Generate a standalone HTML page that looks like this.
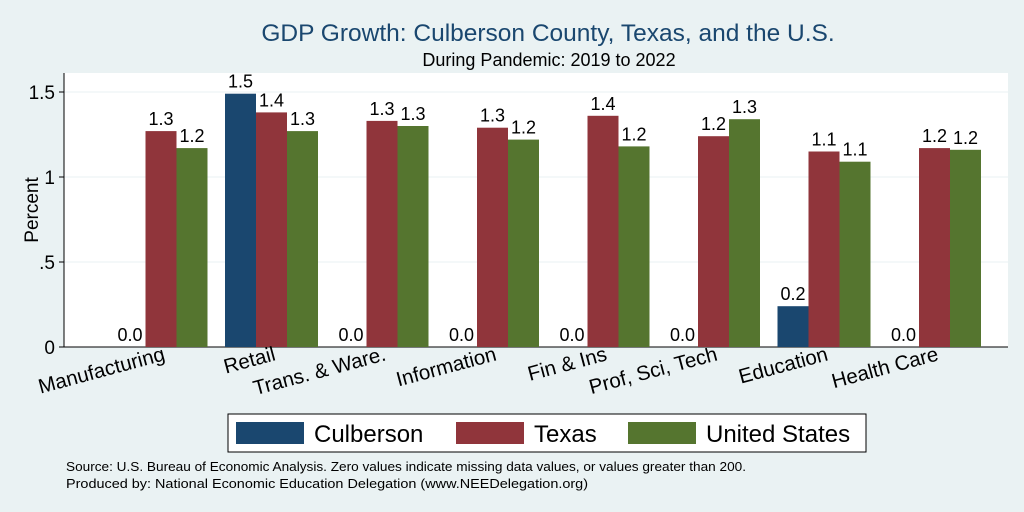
<!DOCTYPE html>
<html><head><meta charset="utf-8"><style>
body{margin:0;background:#eaf2f3;}
svg{display:block;font-family:"Liberation Sans",Arial,sans-serif;}
</style></head><body>
<svg id="chart" width="1024" height="512" viewBox="0 0 1024 512">
<rect x="0" y="0" width="1024" height="512" fill="#eaf2f3"/>
<text x="548" y="41" text-anchor="middle" font-size="24.5" fill="#1a476f">GDP Growth: Culberson County, Texas, and the U.S.</text>
<text x="549" y="66" text-anchor="middle" font-size="18" fill="#000">During Pandemic: 2019 to 2022</text>
<rect x="64" y="73" width="944" height="274" fill="#fff"/>
<g id="grid"></g>
<g id="bars"></g>
<g id="xlabels"></g>
<text transform="translate(38,210) rotate(-90)" text-anchor="middle" font-size="19">Percent</text>
<g>
<rect x="228" y="414" width="638" height="38" fill="#fff" stroke="#000" stroke-width="1"/>
<g><rect x="236" y="422" width="68" height="22" fill="#1a476f"/><text x="314" y="442" font-size="24">Culberson</text></g>
<g><rect x="456" y="422" width="68" height="22" fill="#90353b"/><text x="534" y="442" font-size="24">Texas</text></g>
<g><rect x="628" y="422" width="68" height="22" fill="#55752f"/><text x="706" y="442" font-size="24">United States</text></g>
</g>
<text x="66" y="471" font-size="13" textLength="680" lengthAdjust="spacingAndGlyphs">Source: U.S. Bureau of Economic Analysis. Zero values indicate missing data values, or values greater than 200.</text>
<text x="66" y="488" font-size="13" textLength="522" lengthAdjust="spacingAndGlyphs">Produced by: National Economic Education Delegation (www.NEEDelegation.org)</text>
</svg>
<script>
const categories=["Manufacturing","Retail","Trans. & Ware.","Information","Fin & Ins","Prof, Sci, Tech","Education","Health Care"];
const culberson=[0,1.49,0,0,0,0,0.24,0];
const texas=[1.27,1.38,1.33,1.29,1.36,1.24,1.15,1.17];
const unitedStates=[1.17,1.27,1.30,1.22,1.18,1.34,1.09,1.16];
const yTicks=[0,0.5,1,1.5];
const yTickLabels=["0",".5","1","1.5"];
const NS="http://www.w3.org/2000/svg";
const y=v=>347-v*170;
const xc=i=>161+i*110.5;
const bw=31;
const grid=document.getElementById('grid');
yTicks.forEach((t,i)=>{
 const l=document.createElementNS(NS,'line');
 l.setAttribute('x1',64);l.setAttribute('x2',1008);l.setAttribute('y1',y(t));l.setAttribute('y2',y(t));
 l.setAttribute('stroke',t===0?'#000':'#eaf2f3');l.setAttribute('stroke-width',1);
 
 
 grid.appendChild(l);
 const tk=document.createElementNS(NS,'line');
 tk.setAttribute('x1',59);tk.setAttribute('x2',64);tk.setAttribute('y1',y(t));tk.setAttribute('y2',y(t));tk.setAttribute('stroke','#000');
 
 
 grid.appendChild(tk);
 const tx=document.createElementNS(NS,'text');
 tx.setAttribute('x',55);tx.setAttribute('y',y(t)+7);tx.setAttribute('text-anchor','end');tx.setAttribute('font-size','19');
 tx.textContent=yTickLabels[i];
 
 
 grid.appendChild(tx);
});
const ax=document.createElementNS(NS,'line');
ax.setAttribute('x1',64);ax.setAttribute('x2',64);ax.setAttribute('y1',73);ax.setAttribute('y2',347);ax.setAttribute('stroke','#000');


grid.appendChild(ax);
const bars=document.getElementById('bars');
const series=[[culberson,'#1a476f','culberson'],[texas,'#90353b','texas'],[unitedStates,'#55752f','united-states']];
categories.forEach((c,i)=>{
 series.forEach(([arr,col,nm],s)=>{
  const v=arr[i];const x0=xc(i)+(s-1.5)*bw;
  const r=document.createElementNS(NS,'rect');
  r.setAttribute('x',x0);r.setAttribute('y',y(v));r.setAttribute('width',bw);r.setAttribute('height',347-y(v));r.setAttribute('fill',col);
  
  
  bars.appendChild(r);
  const t=document.createElementNS(NS,'text');
  t.setAttribute('x',x0+bw/2);t.setAttribute('y',y(v)-6);t.setAttribute('text-anchor','middle');t.setAttribute('font-size','18');
  t.textContent=v.toFixed(1);
  
  
  bars.appendChild(t);
 });
 const lt=document.createElementNS(NS,'text');
 lt.setAttribute('transform','translate('+(xc(i)+5)+',360) rotate(-15)');
 lt.setAttribute('text-anchor','end');lt.setAttribute('font-size','20.5');
 lt.textContent=c;
 
 
 document.getElementById('xlabels').appendChild(lt);
});
</script>
</body></html>
